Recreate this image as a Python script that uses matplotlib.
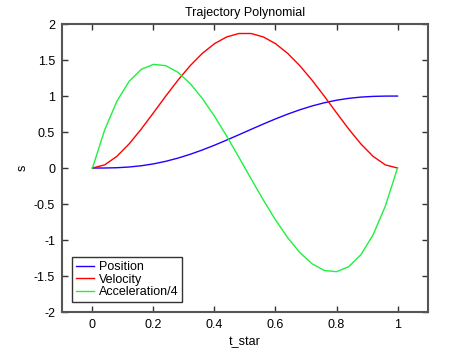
import matplotlib
matplotlib.use("Agg")
import matplotlib.pyplot as plt

t_star = [0.0, 0.04, 0.08, 0.12, 0.16, 0.20, 0.24, 0.28, 0.32, 0.36, 0.40, 0.44, 0.48,
          0.52, 0.56, 0.60, 0.64, 0.68, 0.72, 0.76, 0.80, 0.84, 0.88, 0.92, 0.96, 1.0]
position = [0.0, 0.0006, 0.0045, 0.0143, 0.0318, 0.0579, 0.0933, 0.1376, 0.1905, 0.2509,
            0.3174, 0.3886, 0.4625, 0.5375, 0.6114, 0.6826, 0.7491, 0.8095, 0.8624,
            0.9067, 0.9421, 0.9682, 0.9857, 0.9955, 0.9994, 1.0]
velocity = [0.0, 0.0442, 0.1625, 0.3345, 0.5419, 0.768, 0.9981, 1.2193, 1.4205, 1.5925,
            1.728, 1.8214, 1.869, 1.869, 1.8214, 1.728, 1.5925, 1.4205, 1.2193, 0.9981,
            0.768, 0.5419, 0.3345, 0.1625, 0.0442, 0.0]
accel4 = [0.0, 0.5299, 0.9274, 1.2038, 1.3709, 1.44, 1.4227, 1.3306, 1.175, 0.9677,
          0.72, 0.4435, 0.1498, -0.1498, -0.4435, -0.72, -0.9677, -1.175, -1.3306,
          -1.4227, -1.44, -1.3709, -1.2038, -0.9274, -0.5299, 0.0]

xticks = [0, 0.2, 0.4, 0.6, 0.8, 1]
yticks = [-2, -1.5, -1, -0.5, 0, 0.5, 1, 1.5, 2]

plt.rcParams['font.family'] = ['Liberation Sans', 'DejaVu Sans']

fig = plt.figure(figsize=(4.59, 3.54), dpi=100, facecolor='white')
ax = fig.add_axes([0.135, 0.1186, 0.7975, 0.8134])
ax.set_facecolor('white')

ax.plot(t_star, position, color='#2000ff', lw=1.0, label='Position')
ax.plot(t_star, velocity, color='#ff0000', lw=1.0, label='Velocity')
ax.plot(t_star, accel4, color='#20f040', lw=1.0, label='Acceleration/4')

ax.set_xlim(-0.1, 1.1)
ax.set_ylim(-2, 2)
ax.set_xticks(xticks)
ax.set_xticklabels(['0', '0.2', '0.4', '0.6', '0.8', '1'])
ax.set_yticks(yticks)
ax.set_yticklabels(['-2', '-1.5', '-1', '-0.5', '0', '0.5', '1', '1.5', '2'])
ax.tick_params(direction='in', length=4, width=1, top=True, right=True,
               labelsize=9, colors='#333333', labelcolor='black', pad=5)
for sp in ax.spines.values():
    sp.set_color('#555555')
    sp.set_linewidth(1.5)

ax.set_title('Trajectory Polynomial', fontsize=9, pad=6)
ax.set_xlabel('t_star', fontsize=9, labelpad=4)
ax.set_ylabel('s', fontsize=9, labelpad=4)

leg = ax.legend(loc='lower left', fontsize=9, frameon=True, fancybox=False,
                edgecolor='black', handlelength=1.45, handletextpad=0.4,
                borderpad=0.3, labelspacing=0.05, borderaxespad=0.8)
leg.get_frame().set_linewidth(1.0)

fig.savefig('out.png', dpi=100, facecolor='white')
